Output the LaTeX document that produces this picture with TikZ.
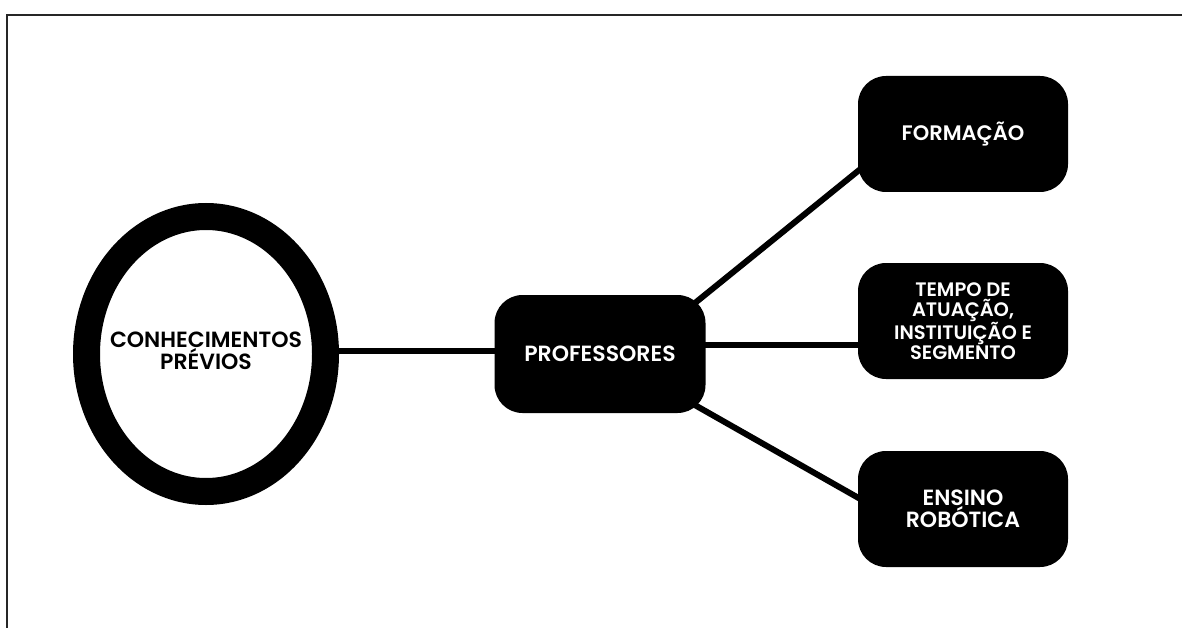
\documentclass[tikz,border=0pt]{standalone}
\usepackage{fontspec}
\setmainfont{Poppins SemiBold}
\usetikzlibrary{shapes.geometric, backgrounds}

\begin{document}
\begin{tikzpicture}[x=1pt, y=-1pt,
        box/.style={fill=black, rounded corners=28pt, text=white, align=center,
            inner sep=0pt, minimum width=210pt, minimum height=116pt,
            font=\fontsize{21}{20.5}\selectfont},
        link/.style={line width=6pt}]
    \useasboundingbox (0,0) rectangle (1182,628);
    \draw[line width=2.5pt, black!85] (7,628) -- (7,15) -- (1182,15);

    \node[ellipse, draw, fill=white, line width=27pt, inner sep=0pt,
        minimum width=239pt, minimum height=275pt,
        label={[align=center, font=\fontsize{22}{21}\selectfont, yshift=3pt]center:CONHECIMENTOS\\PRÉVIOS}] (prev) at (206,354) {};
    \node[box, minimum width=211pt, minimum height=118pt, font=\fontsize{22}{21}\selectfont] (prof) at (600,354) {PROFESSORES};
    \node[box] (form) at (963,134) {FORMAÇÃO};
    \node[box, font=\fontsize{19.5}{19.5}\selectfont] (tempo) at (963,321) {TEMPO DE\\ATUAÇÃO,\\INSTITUIÇÃO E\\SEGMENTO};
    \node[box, font=\fontsize{22}{20.5}\selectfont] (ens) at (963,509) {ENSINO\\ROBÓTICA};

    \begin{scope}[on background layer]
        \draw[link] ([yshift=3pt]prev.center) -- ([yshift=3pt]prof.center);
        \draw[link] ([yshift=9pt]prof.center) -- ([yshift=9pt]prof.center -| tempo.center);
        \draw[link] ([shift={(50pt,14.6pt)}]prof.center) -- ([shift={(-63pt,-3pt)}]form.center);
        \draw[link] ([shift={(50pt,-25.6pt)}]prof.center) -- ([shift={(-63pt,-12.5pt)}]ens.center);
    \end{scope}
\end{tikzpicture}
\end{document}
